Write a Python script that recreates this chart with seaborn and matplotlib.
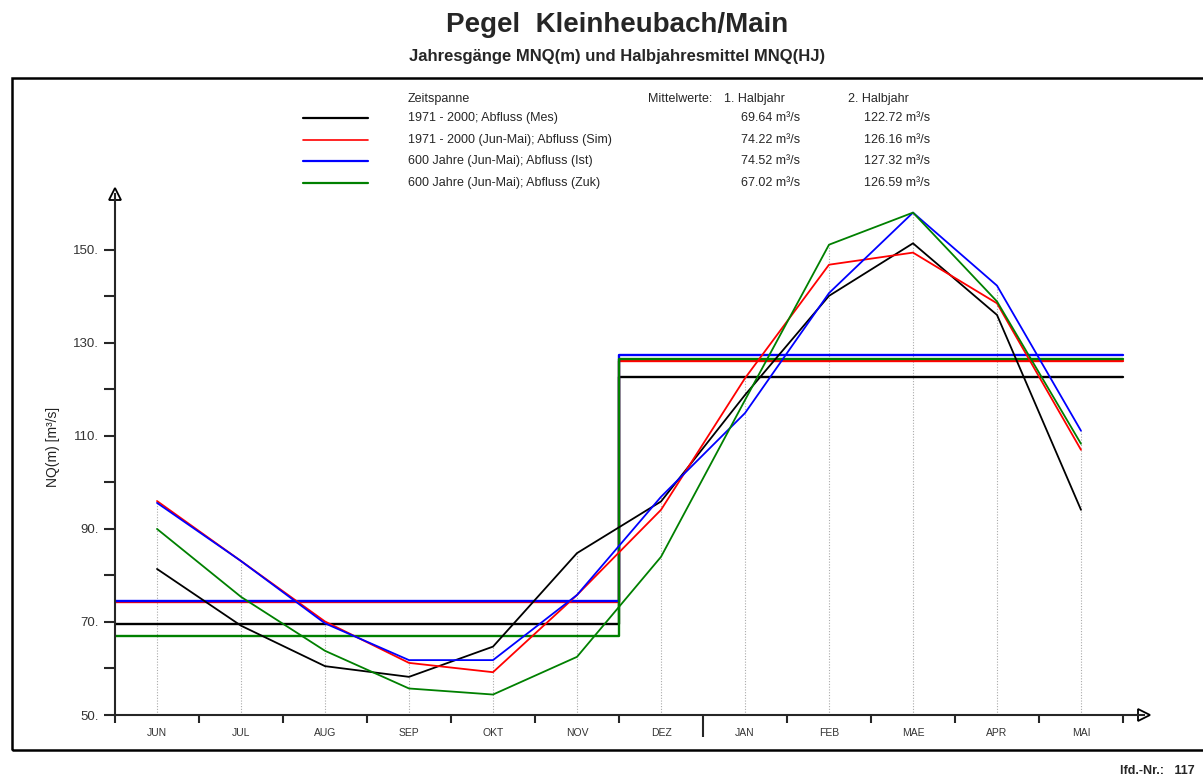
import numpy as np
import pandas as pd
import seaborn as sns
import matplotlib.pyplot as plt
from matplotlib.patches import Rectangle
from matplotlib.lines import Line2D

# Monthly values (Jun - Mai)
months = ["JUN", "JUL", "AUG", "SEP", "OKT", "NOV", "DEZ", "JAN", "FEB", "MAE", "APR", "MAI"]
mes = [81.4, 69.2, 60.5, 58.2, 64.7, 84.8, 95.9, 118.8, 140.1, 151.4, 136.0, 94.1]
sim = [96.0, 83.1, 70.1, 61.2, 59.2, 75.8, 94.1, 122.4, 146.8, 149.4, 138.5, 107.0]
ist = [95.6, 83.1, 69.7, 61.8, 61.8, 75.8, 96.9, 114.9, 140.7, 158.0, 142.3, 111.1]
zuk = [90.0, 75.4, 63.8, 55.7, 54.4, 62.5, 84.0, 117.7, 151.1, 158.0, 138.9, 108.3]

series_names = ["1971 - 2000; Abfluss (Mes)",
                "1971 - 2000 (Jun-Mai); Abfluss (Sim)",
                "600 Jahre (Jun-Mai); Abfluss (Ist)",
                "600 Jahre (Jun-Mai); Abfluss (Zuk)"]
mean_h1 = [69.64, 74.22, 74.52, 67.02]
mean_h2 = [122.72, 126.16, 127.32, 126.59]
colors = ["#000000", "#ff0000", "#0000ff", "#008000"]

# long form data for seaborn
rows = []
for name, vals in zip(series_names, [mes, sim, ist, zuk]):
    for i, v in enumerate(vals):
        rows.append({"idx": i, "value": v, "series": name})
df = pd.DataFrame(rows)

sns.set_style("white")
plt.rcParams["font.family"] = ["Liberation Sans", "DejaVu Sans"]

fig = plt.figure(figsize=(12.03, 7.8), dpi=100)
ax = fig.add_axes([115 / 1203, 65 / 780, 1029 / 1203, 521 / 780])

# dotted month guides up to the highest curve
top = df.groupby("idx")["value"].max()
ax.vlines(top.index, 50, top.values, colors="#aaaaaa", linestyles=(0, (1, 1.5)), lw=0.8, zorder=1)

# half-year means (green drawn last so its step stays visible)
for m1, m2, c in zip(mean_h1, mean_h2, colors):
    ax.plot([-0.5, 5.5, 5.5, 11.5], [m1, m1, m2, m2], color=c, lw=1.7, zorder=2)

sns.lineplot(data=df, x="idx", y="value", hue="series", palette=dict(zip(series_names, colors)),
             sort=False, legend=False, lw=1.3, ax=ax, zorder=3)

ax.set_xlim(-0.5, 11.75)
ax.set_ylim(50, 162)
for s in ["top", "right"]:
    ax.spines[s].set_visible(False)
for s in ["left", "bottom"]:
    ax.spines[s].set_linewidth(1.5)

# axis arrows
ax.plot([1], [0], marker=">", ms=9, mfc="white", mec="black", mew=1.3,
        transform=ax.transAxes, clip_on=False)
ax.plot([0], [1], marker="^", ms=9, mfc="white", mec="black", mew=1.3,
        transform=ax.transAxes, clip_on=False)

ax.set_xticks(np.arange(-0.5, 12, 1))
ax.set_xticklabels([])
ax.set_xticks(np.arange(12), minor=True)
ax.set_xticklabels(months, minor=True, fontsize=7.5, color="#333333")
ax.tick_params(axis="x", which="major", direction="out", length=6, width=1.5, bottom=True)
ax.tick_params(axis="x", which="minor", length=0, pad=9)
ax.xaxis.get_major_ticks()[7].tick1line.set_markersize(16)

ax.set_yticks(np.arange(50, 151, 20))
ax.set_yticklabels([f"{v}." for v in range(50, 151, 20)], fontsize=9.5, color="#333333")
ax.set_yticks(np.arange(60, 141, 20), minor=True)
ax.tick_params(axis="y", which="both", direction="out", length=8, width=1.5, left=True)
ax.set_xlabel("")
ax.set_ylabel("NQ(m) [m³/s]", fontsize=10, color="#222222")
ax.yaxis.set_label_coords(-0.053, 0.515)

# titles and frame
fig.text(0.513, 0.968, "Pegel  Kleinheubach/Main", ha="center", va="center", fontsize=20, fontweight="bold")
fig.text(0.513, 0.928, "Jahresgänge MNQ(m) und Halbjahresmittel MNQ(HJ)", ha="center", va="center",
         fontsize=12, fontweight="bold")
fig.patches.append(Rectangle((12 / 1203, 30 / 780), 1.0, 672 / 780, transform=fig.transFigure,
                             fill=False, ec="black", lw=1.8))
fig.text(0.993, 0.012, "lfd.-Nr.:   117", ha="right", va="center", fontsize=9, fontweight="bold")

# legend table
fs = 9
fig.text(408 / 1203, 1 - 99 / 780, "Zeitspanne", fontsize=fs, va="center")
fig.text(712 / 1203, 1 - 99 / 780, "Mittelwerte:", fontsize=fs, va="center", ha="right")
fig.text(724 / 1203, 1 - 99 / 780, "1. Halbjahr", fontsize=fs, va="center")
fig.text(848 / 1203, 1 - 99 / 780, "2. Halbjahr", fontsize=fs, va="center")
for k, (name, c) in enumerate(zip(series_names, colors)):
    y = 1 - (118 + k * 21.7) / 780
    fig.add_artist(Line2D([303 / 1203, 368 / 1203], [y, y], color=c, lw=1.6 if k != 1 else 1.2,
                          transform=fig.transFigure))
    fig.text(408 / 1203, y, name, fontsize=fs, va="center")
    fig.text(800 / 1203, y, f"{mean_h1[k]:.2f} m³/s", fontsize=fs, va="center", ha="right")
    fig.text(930 / 1203, y, f"{mean_h2[k]:.2f} m³/s", fontsize=fs, va="center", ha="right")

plt.savefig("out.png", dpi=100)
